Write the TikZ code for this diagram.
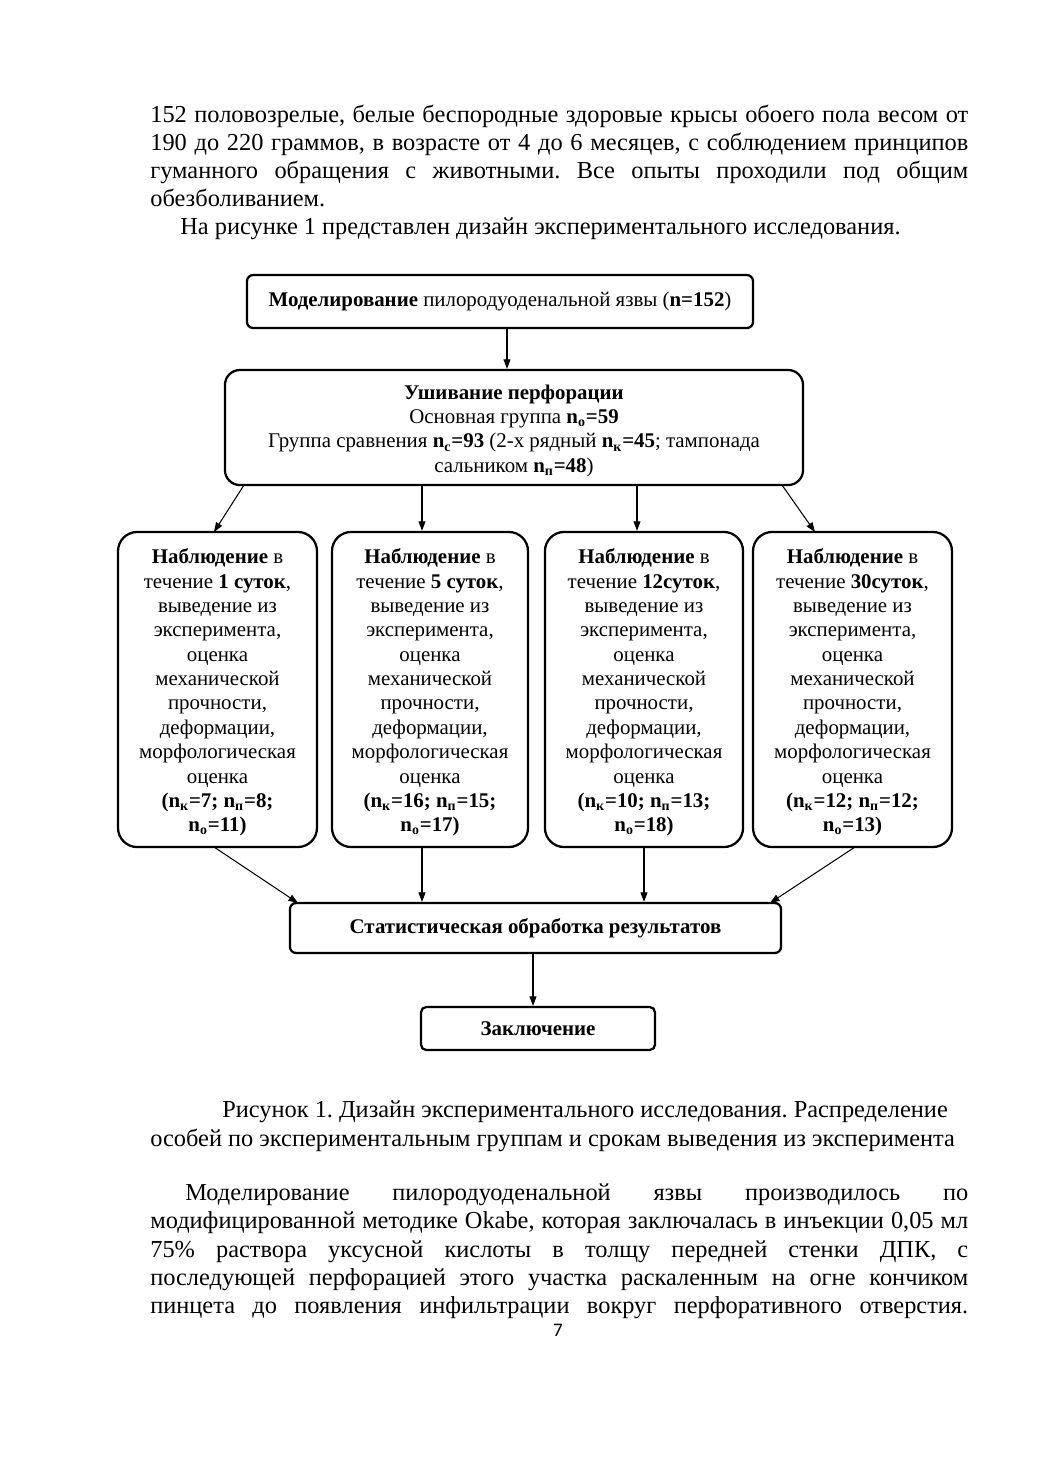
\documentclass[tikz,border=0pt]{standalone}
\usepackage{fontspec}
\setmainfont{Liberation Serif}
\newfontfamily\pnfont{Carlito}
\usetikzlibrary{arrows.meta,calc}
\frenchspacing
\newcommand\jl[2]{\parbox{#1}{\frenchspacing\parfillskip=0pt\relax #2}}
\newcommand\obs[4]{\rule{0pt}{12pt}\textbf{Наблюдение} в\\ течение \textbf{#1},\\ выведение из\\ эксперимента,\\ оценка\\ механической\\ прочности,\\ деформации,\\ морфологическая\\ оценка\\ \textbf{(n\textsubscript{к}=#2; n\textsubscript{п}=#3;}\\ \textbf{n\textsubscript{о}=#4)}}
\begin{document}
\begin{tikzpicture}[x=0.5745pt,y=-0.5745pt,
  box/.style={draw, line width=1.3pt, align=center, inner sep=0pt, font=\fontsize{12pt}{14pt}\selectfont},
  obsbox/.style={box, rounded corners=11pt, minimum height=181pt},
  arr/.style={-{Triangle[length=5.5pt,width=4pt]}, line width=0.6pt},
  body/.style={anchor=base west, inner sep=0pt, font=\frenchspacing\fontsize{14pt}{16.1pt}\selectfont}]
\fill[white] (0,0) rectangle (1040,1473);
\useasboundingbox (0,0) rectangle (1040,1473);
% body text top
\node[body] (t1) at (150,123) {\jl{469.9pt}{152 половозрелые, белые беспородные здоровые крысы обоего пола весом от}};
\node[body] (t2) at (150,151) {\jl{469.9pt}{190 до 220 граммов, в возрасте от 4 до 6 месяцев, с соблюдением принципов}};
\node[body] (t3) at (150,179) {\jl{469.9pt}{гуманного обращения с животными. Все опыты проходили под общим}};
\node[body] (t4) at (150,206) {обезболиванием.};
\node[body] (t5) at (180,234) {На рисунке 1 представлен дизайн экспериментального исследования.};
% diagram
\node[box, rounded corners=3.5pt, minimum width=290.7pt, minimum height=30.4pt] (m) at (500,301.5)
  {\textbf{Моделирование} пилородуоденальной язвы (\textbf{n=152})};
\node[box, rounded corners=8.6pt, minimum width=332.1pt, minimum height=66.1pt] (u) at (514,427.5)
  {\rule{0pt}{12pt}\textbf{Ушивание перфорации}\\ Основная группа \textbf{n\textsubscript{о}=59}\\ Группа сравнения \textbf{n\textsubscript{с}=93} (2-х рядный \textbf{n\textsubscript{к}=45}; тампонада\\ сальником \textbf{n\textsubscript{п}=48})};
\node[obsbox, minimum width=114.3pt] (ba) at (217.5,689.5) {\obs{1 суток}{7}{8}{11}};
\node[obsbox, minimum width=112.6pt] (bb) at (430,689.5) {\obs{5 суток}{16}{15}{17}};
\node[obsbox, minimum width=113.8pt] (bc) at (644,689.5) {\obs{12суток}{10}{13}{18}};
\node[obsbox, minimum width=114.3pt] (bd) at (852.5,689.5) {\obs{30суток}{12}{12}{13}};
\node[box, rounded corners=3.5pt, minimum width=282.1pt, minimum height=28.7pt] (s) at (535.5,928)
  {\textbf{Статистическая обработка результатов}};
\node[box, rounded corners=3pt, minimum width=134.4pt, minimum height=24.7pt] (z) at (538,1028.5)
  {\textbf{Заключение}};
% connectors
\coordinate (a0) at (507,328);
\draw[arr] (a0) -- (a0 |- u.north);
\coordinate (a1) at (244,485);
\coordinate (a1e) at (214,532);
\draw[arr] (a1) -- (a1e);
\coordinate (a2) at (422,485);
\draw[arr] (a2) -- (a2 |- bb.north);
\coordinate (a3) at (637,485);
\draw[arr] (a3) -- (a3 |- bc.north);
\coordinate (a4) at (782,485);
\coordinate (a4e) at (815,532);
\draw[arr] (a4) -- (a4e);
\coordinate (b1) at (214,847);
\coordinate (b1e) at (298,903);
\draw[arr] (b1) -- (b1e);
\coordinate (b2) at (422,847);
\draw[arr] (b2) -- (b2 |- s.north);
\coordinate (b3) at (644,847);
\draw[arr] (b3) -- (b3 |- s.north);
\coordinate (b4) at (855,847);
\coordinate (b4e) at (770,903);
\draw[arr] (b4) -- (b4e);
\coordinate (c0) at (533,953);
\draw[arr] (c0) -- (c0 |- z.north);
% caption
\node[body] (c1) at (222,1117) {Рисунок 1. Дизайн экспериментального исследования. Распределение};
\node[body] (c2) at (150,1146) {особей по экспериментальным группам и срокам выведения из эксперимента};
% body text bottom
\node[body] (p1) at (185,1201) {\jl{449.8pt}{Моделирование пилородуоденальной язвы производилось по}};
\node[body] (p2) at (150,1229) {\jl{469.9pt}{модифицированной методике Okabe, которая заключалась в инъекции 0,05 мл}};
\node[body] (p3) at (150,1258) {\jl{469.9pt}{75\% раствора уксусной кислоты в толщу передней стенки ДПК, с}};
\node[body] (p4) at (150,1286) {\jl{469.9pt}{последующей перфорацией этого участка раскаленным на огне кончиком}};
\node[body] (p5) at (150,1314) {\jl{469.9pt}{пинцета до появления инфильтрации вокруг перфоративного отверстия.}};
\node[anchor=base, inner sep=0pt, font=\pnfont\fontsize{11pt}{13pt}\selectfont] (pn) at (558,1336) {7};
\end{tikzpicture}
\end{document}
